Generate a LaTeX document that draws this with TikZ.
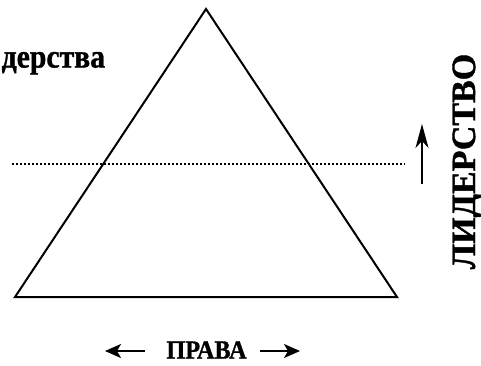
\documentclass[tikz,border=0pt]{standalone}
\usepackage{fontspec}
\setmainfont{Liberation Serif}[BoldFeatures={FakeBold=1.2}]
\usetikzlibrary{arrows.meta}

\begin{document}
\begin{tikzpicture}[x=1pt, y=-1pt, edge/.style = {line width=2pt, line join=miter}, txt/.style = {font=\bfseries, inner sep=0pt}, arr/.style = {line width=1.8pt, -{Stealth[length=16pt, width=14pt, inset=4pt]}}]
	\useasboundingbox (0,0) rectangle (481,365);
	\coordinate (top) at (206,9);
	\coordinate (left) at (15,297);
	\coordinate (right) at (397,297);
	\draw[edge] (top) -- (left) -- (right) -- cycle;
	\coordinate (dl) at (12,164);
	\coordinate (dr) at (405,164);
	\draw[line width=1.8pt, dash pattern=on 1.6pt off 2.4pt] (dl) -- (dr);
	\coordinate (up0) at (422,184);
	\coordinate (up1) at (422,124);
	\draw[line width=1.2pt, -{Stealth[length=24pt, width=13pt, inset=7pt]}] (up0) -- (up1);
	\node[txt, anchor=base west, xscale=0.9] (lead) at (1.5,67.5) {\fontsize{33}{40}\selectfont дерства};
	\node[txt, anchor=base, rotate=90] (lid) at (475,161.5) {\fontsize{34}{40}\selectfont ЛИДЕРСТВО};
	\node[txt, anchor=base, xscale=0.93] (prava) at (206.5,358.5) {\fontsize{26}{30}\selectfont ПРАВА};
	\coordinate (l0) at (145,351);
	\coordinate (l1) at (105,351);
	\coordinate (r0) at (260,351);
	\coordinate (r1) at (300,351);
	\draw[arr] (l0) -- (l1);
	\draw[arr] (r0) -- (r1);
\end{tikzpicture}
\end{document}
